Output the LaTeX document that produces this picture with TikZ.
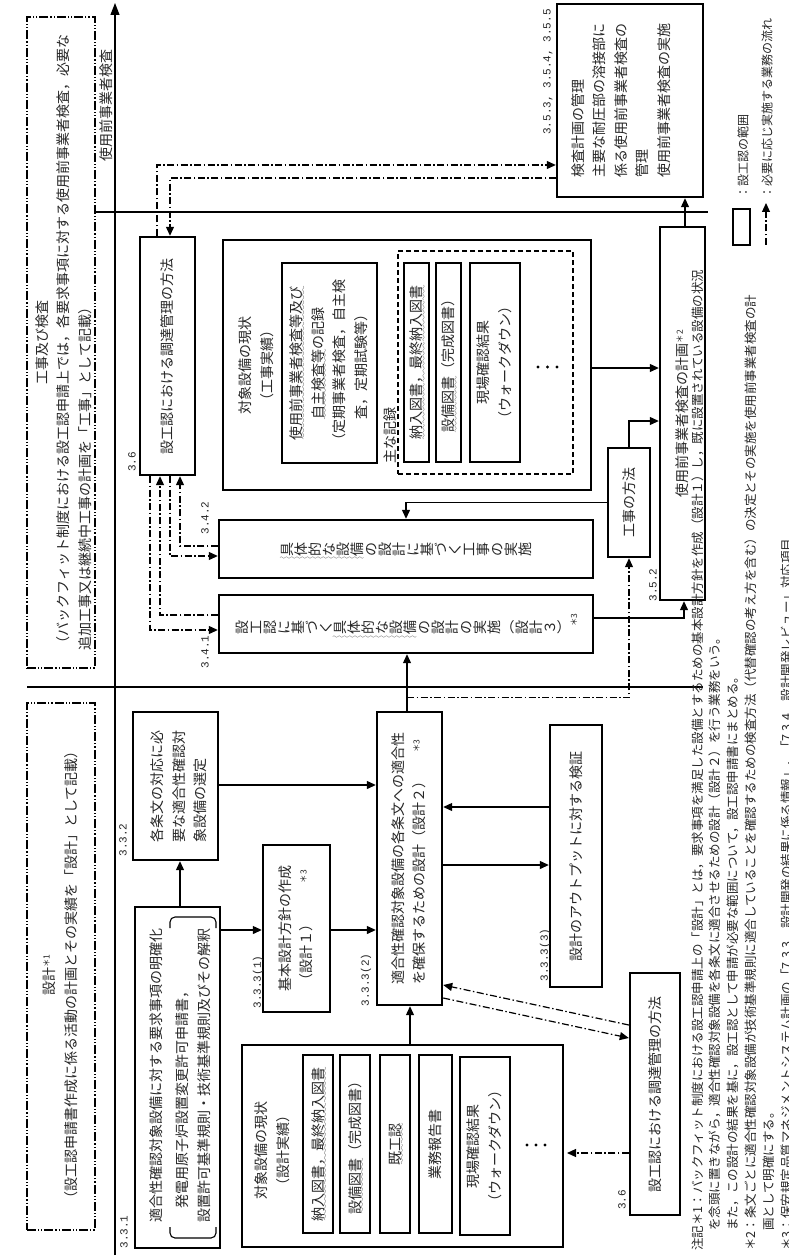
\documentclass[tikz,border=0pt]{standalone}
\usepackage{fontspec}
\setmainfont{Noto Sans CJK JP}
\newfontfamily\lblfont{Liberation Mono}
\usetikzlibrary{arrows.meta,calc}
\font\sixly=lasy6
\newsavebox\wvbox
\newcommand\wv[1]{\sbox\wvbox{#1}\smash{\rlap{\lower3.4pt\hbox to\wd\wvbox{\sixly\xleaders\hbox{\char58}\hfil}}}\usebox\wvbox}
\newcommand\VT[1]{\rotatebox{90}{#1}}
\newcommand\VL[1]{\rotatebox{90}{\begin{tabular}{@{}l@{}}#1\end{tabular}}}
\newcommand\VC[1]{\rotatebox{90}{\begin{tabular}{@{}c@{}}#1\end{tabular}}}
\newcommand\sups[1]{\raisebox{5pt}{\fontsize{8.5}{8.5}\selectfont ＊#1}}
\def\tate#1{\tateA#1\relax}
\def\tateA#1{\ifx\relax#1\else\rotatebox{90}{\rule[-0.12em]{0pt}{1em}#1}\expandafter\tateA\fi}
\tikzset{
  bx/.style={draw, line width=2.4pt, inner sep=0pt},
  sb/.style={draw, line width=1.3pt, inner sep=0pt},
  db/.style={draw, line width=1.3pt, dash pattern=on 5pt off 3pt, inner sep=0pt},
  ph/.style={draw, line width=1.1pt, dash pattern=on 9pt off 2pt on 1.2pt off 2pt on 1.2pt off 2pt, inner sep=0pt},
  tx/.style={inner sep=0pt},
  lb/.style={inner sep=0pt, font=\lblfont\fontsize{11}{11}\selectfont},
  arr/.style={line width=1.2pt, -{Triangle[length=9pt,width=8pt]}},
  dda/.style={line width=1.2pt, dash pattern=on 7pt off 2.5pt on 1.5pt off 2.5pt, -{Triangle[length=9pt,width=8pt]}},
  ln/.style={line width=1.1pt},
}
\begin{document}
\begin{tikzpicture}[x=1pt,y=-1pt, font=\fontsize{14}{21.5}\selectfont, every node/.append style={text=black!85}]
\useasboundingbox (0,0) rectangle (788,1257);
\fill[white] (0,0) rectangle (788,1257);

% phase frames
\node[ph, minimum width=68pt, minimum height=651pt] (P2) at (61,342.5) {};
\node[tx] (P2t) at (64.5,342.5) {\rotatebox{90}{\begin{tabular}{@{}l@{}}\multicolumn{1}{@{}c@{}}{工事及び検査}\\（バックフィット制度における設工認申請上では，各要求事項に対する使用前事業者検査，必要な\\追加工事又は継続中工事の計画を「工事」として記載）\end{tabular}}};
\node[ph, minimum width=68pt, minimum height=527pt] (P1) at (61,966.5) {};
\node[tx] (P1t) at (61,975) {\VC{設計\sups{1}\\（設工認申請書作成に係る活動の計画とその実績を「設計」として記載）}};

% phase lines and axis
\coordinate (h1a) at (27,687); \coordinate (h1b) at (703,687);
\coordinate (h2a) at (95,212); \coordinate (h2b) at (708,212);
\draw[ln] (h1a) -- (h1b);
\draw[ln] (h2a) -- (h2b);
\coordinate (ax0) at (115,1255); \coordinate (ax1) at (115,3);
\draw[line width=1.2pt, -{Triangle[length=12pt,width=9pt]}] (ax0) -- (ax1);
\node[tx] (ph3) at (106,106) {\VT{使用前事業者検査}};

% design phase boxes
\node[bx, minimum width=85pt, minimum height=341pt] (A) at (177.5,1077.5) {};
\node[tx] (At) at (181,1075) {\VL{適合性確認対象設備に対する要求事項の明確化\\[5pt]　発電用原子炉設置変更許可申請書，\\設置許可基準規則・技術基準規則及びその解釈}};
\draw[line width=1.1pt, rounded corners=5pt] (170,928) -- (170,917) -- (216,917) -- (216,928);
\draw[line width=1.1pt, rounded corners=5pt] (170,1227) -- (170,1238) -- (216,1238) -- (216,1227);

\node[bx, minimum width=85pt, minimum height=148pt] (B) at (175.5,786) {};
\node[tx] (Bt) at (180,786) {\VL{各条文の対応に必\\要な適合性確認対\\象設備の選定}};

\node[bx, minimum width=67pt, minimum height=167pt] (C) at (296.5,928.5) {\VC{基本設計方針の作成\\（設計１）\hspace{34pt}\sups{3}}};

\node[bx, minimum width=65pt, minimum height=293pt] (D) at (409.5,858.5) {\VL{適合性確認対象設備の各条文への適合性\\を確保するための設計（設計２）\hspace{22pt}\sups{3}}};

\node[bx, minimum width=52pt, minimum height=262pt] (L) at (576,856) {\VT{設計のアウトプットに対する検証}};

\node[bx, minimum width=50pt, minimum height=242pt] (M) at (655,1094) {\VT{設工認における調達管理の方法}};

\node[bx, minimum width=321pt, minimum height=202pt] (N) at (402.5,1146) {};
\node[tx] (Nt) at (273,1150) {\VC{対象設備の現状\\（設計実績）}};
\node[sb, minimum width=30pt, minimum height=178pt] (N1) at (318,1144) {\VT{\wv{納入図書，最終納入図書}}};
\node[sb, minimum width=30pt, minimum height=178pt] (N2) at (355,1144) {\VT{\wv{設備図書}（完成図書）}};
\node[sb, minimum width=30pt, minimum height=178pt] (N3) at (395,1144) {\VT{\wv{既工認}}};
\node[sb, minimum width=33pt, minimum height=178pt] (N4) at (435.5,1144) {\VT{業務報告書}};
\node[sb, minimum width=50pt, minimum height=178pt] (N5) at (485,1146) {\VC{現場確認結果\\（ウォークダウン）}};
\fill (527,1145) circle[radius=1.7pt] (536,1145) circle[radius=1.7pt] (545,1145) circle[radius=1.7pt];
\coordinate (Nd) at (567,1153);

% construction phase boxes
\node[bx, minimum width=374pt, minimum height=58pt] (E) at (406,624) {\tate{設工認に基づく}\wv{\tate{具体的な設備}}\tate{の設計の実施}\raisebox{0.12em}{（}\tate{設計３}\raisebox{0.12em}{）}\raisebox{8pt}{\rotatebox{90}{\fontsize{8.5}{8.5}\selectfont ＊3}}};
\node[bx, minimum width=374pt, minimum height=58pt] (F) at (406,549) {\wv{\tate{具体的な設備}}\tate{の設計に基づく工事の実施}};

\node[bx, minimum width=55pt, minimum height=238pt] (G) at (167.5,356) {\VT{設工認における調達管理の方法}};

\node[bx, minimum width=368pt, minimum height=250pt] (H) at (407,365) {};
\node[tx] (Ht) at (257,365) {\VC{対象設備の現状\\（工事実績）}};
\node[sb, minimum width=95pt, minimum height=200pt] (H1) at (329.5,363) {\VC{\wv{使用前事業者検査等及び}\\\wv{自主検査等}の記録\\（定期事業者検査，自主検\\査，定期試験等）}};
\node[db, minimum width=175pt, minimum height=223pt] (HD) at (485.5,362.5) {};
\node[tx] (Hk) at (390,435) {\VT{主な記録}};
\node[sb, minimum width=25pt, minimum height=199pt] (H2) at (416.5,362.5) {\VT{\wv{納入図書，最終納入図書}}};
\node[sb, minimum width=25pt, minimum height=199pt] (H3) at (448.5,362.5) {\VT{\wv{設備図書}（完成図書）}};
\node[sb, minimum width=50pt, minimum height=199pt] (H4) at (495,362.5) {\VC{現場確認結果\\（ウォークダウン）}};
\fill (538,367) circle[radius=1.7pt] (547.5,367) circle[radius=1.7pt] (557,367) circle[radius=1.7pt];

\node[bx, minimum width=42pt, minimum height=109pt] (I) at (629,502.5) {\VT{工事の方法}};
\node[bx, minimum width=45pt, minimum height=373pt] (J) at (682.5,413.5) {\VT{使用前事業者検査の計画\sups{2}}};
\node[bx, minimum width=146pt, minimum height=193pt] (K) at (630,100.5) {};
\node[tx] (Kt) at (622,100.5) {\VL{検査計画の管理\\主要な耐圧部の溶接部に\\係る使用前事業者検査の\\管理\\使用前事業者検査の実施}};

% section labels
\node[lb] (l331) at (124,1232) {\VT{3.3.1}};
\node[lb] (l332) at (123,840) {\VT{3.3.2}};
\node[lb] (l3331) at (258,982) {\VT{3.3.3(1)}};
\node[lb] (l3332) at (366,980) {\VT{3.3.3(2)}};
\node[lb] (l3333) at (545,955) {\VT{3.3.3(3)}};
\node[lb] (l36a) at (132,462) {\VT{3.6}};
\node[lb] (l36b) at (622,1200) {\VT{3.6}};
\node[lb] (l341) at (205,652) {\VT{3.4.1}};
\node[lb] (l342) at (205,518) {\VT{3.4.2}};
\node[lb] (l352) at (653,585) {\VT{3.5.2}};
\node[lb] (l355) at (548,72) {\VT{3.5.3,~3.5.4,~3.5.5}};

% solid connectors
\draw[arr] (A.north -| 180,0) -- (B.south -| 180,0);
\draw[arr] (A.east |- 0,930) -- (C.west |- 0,930);
\draw[arr] (C.east |- 0,930) -- (D.west |- 0,930);
\draw[arr] (B.east |- 0,785) -- (D.west |- 0,785);
\draw[arr] (D.east |- 0,865) -- (L.west |- 0,865);
\draw[arr] (L.west |- 0,807) -- (D.east |- 0,807);
\draw[arr] (N.north -| 410,0) -- (D.south -| 410,0);
\draw[arr] (D.north -| 407,0) -- (E.south -| 407,0);
\draw[arr] (I.west) -| (F.north);
\draw[arr] (I.north) |- (J.west |- 0,421);
\draw[arr] (H.east |- 0,368) -- (J.west |- 0,368);
\draw[arr] (E.east |- 0,618) -| (J.south -| 684,0);
\draw[arr] (J.north -| 685,0) -- (K.south -| 685,0);

% dash-dot connectors
\draw[dda] ($(D.north -| 407,0)+(0,-13)$) -| (I.south);
\draw[dda] (G.south -| 150,0) |- (E.west |- 0,630);
\draw[dda] (E.west |- 0,615) -| (G.south -| 160,0);
\draw[dda] (G.south -| 170,0) |- (F.west |- 0,556);
\draw[dda] (F.west |- 0,546) -| (G.south -| 180,0);
\draw[dda] (G.north -| 157,0) |- (K.west |- 0,165);
\draw[dda] (K.west |- 0,178) -| (G.north -| 170,0);
\draw[dda] (M.west |- 0,1025) -- (D.east |- 0,985);
\draw[dda] (D.east |- 0,998) -- (M.west |- 0,1038);
\draw[dda] (M.west |- 0,1153) -- (Nd);

% legend
\node[bx, minimum width=17pt, minimum height=36pt] (lgb) at (741.5,227) {};
\node[tx, anchor=south, font=\fontsize{12}{12}\selectfont] (lgt1) at (743,199) {\VT{：設工認の範囲}};
\coordinate (lga) at (766,245); \coordinate (lgc) at (766,203);
\draw[dda] (lga) -- (lgc);
\node[tx, anchor=south, font=\fontsize{12}{12}\selectfont] (lgt2) at (767,199) {\VT{：必要に応じ実施する業務の流れ}};

% notes
\node[tx, anchor=south west, font=\fontsize{12.5}{17.8}\selectfont] (notes) at (689.5,1251) {\rotatebox{90}{\begin{tabular}{@{}l@{}}
注記＊1：バックフィット制度における設工認申請上の「設計」とは，要求事項を満足した設備とするための基本設計方針を作成（設計１）し，既に設置されている設備の状況\\
\hspace*{20pt}を念頭に置きながら，適合性確認対象設備を各条文に適合させるための設計（設計２）を行う業務をいう。\\
\hspace*{20pt}また，この設計の結果を基に，設工認として申請が必要な範囲について，設工認申請書にまとめる。\\
＊2：条文ごとに適合性確認対象設備が技術基準規則に適合していることを確認するための検査方法（代替確認の考え方を含む）の決定とその実施を使用前事業者検査の計\\
\hspace*{20pt}画として明確にする。\\
＊3：保安規定品質マネジメントシステム計画の「7.3.3　設計開発の結果に係る情報」，「7.3.4　設計開発レビュー」対応項目
\end{tabular}}};
\end{tikzpicture}
\end{document}
